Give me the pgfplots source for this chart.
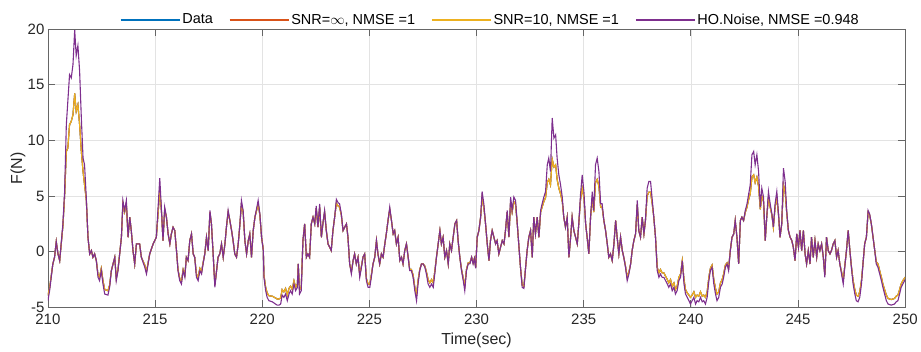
\documentclass[border=0pt]{standalone}
\usepackage{pgfplots}
\pgfplotsset{compat=1.18}
\usepackage{pgfplotstable}
\usepackage{fontspec}
\setmainfont{Liberation Sans}
\definecolor{mblue}{rgb}{0,0.447,0.741}
\definecolor{morange}{rgb}{0.85,0.325,0.098}
\definecolor{myellow}{rgb}{0.929,0.694,0.125}
\definecolor{mpurple}{rgb}{0.494,0.184,0.556}

% t = time, p = HO.Noise, y = data / SNR curves
\pgfplotstableread{
t p y
210.00 -4.4 -3.95
210.08 -3.5 -3.25
210.23 -1.1 -1.1
210.31 -0.5 -0.5
210.39 0.9 0.9
210.47 -0.2 -0.2
210.55 -0.8 -0.8
210.70 2.5 2.3
210.78 5.4 5.0
210.86 11.4 9.0
210.93 13.5 9.3
211.01 15.9 11.4
211.09 15.6 11.7
211.17 16.8 12.3
211.25 19.9 14.2
211.32 17.6 12.6
211.40 18.5 13.2
211.48 16.2 11.4
211.56 12.0 9.0
211.64 8.4 7.2
211.71 7.8 6.0
211.79 4.9 4.7
211.87 1.3 1.3
211.95 -0.2 -0.2
212.03 0.1 0.1
212.10 -0.5 -0.5
212.18 -0.2 -0.2
212.26 -0.8 -0.8
212.34 -2.3 -2.1
212.41 -2.6 -2.3
212.49 -1.7 -1.5
212.57 -2.9 -2.6
212.65 -3.8 -3.4
212.80 -3.9 -3.5
212.88 -3.2 -3.0
212.96 -1.7 -1.7
213.12 -0.5 -0.5
213.19 -2.6 -2.4
213.27 -1.7 -1.6
213.43 1.3 1.3
213.50 4.6 4.3
213.58 3.7 3.55
213.66 4.6 4.3
213.74 1.3 1.3
213.82 3.1 3.1
213.89 1.9 1.9
213.97 0.1 0.1
214.05 -1.1 -1.1
214.13 0.7 0.7
214.28 0.7 0.7
214.36 -0.5 -0.5
214.52 -1.4 -1.2
214.60 -2.0 -1.8
214.75 -0.2 -0.2
214.91 0.7 0.7
215.06 1.3 1.3
215.22 6.6 5.5
215.30 3.7 3.55
215.37 1.0 1.0
215.45 4.0 3.8
215.53 3.1 3.1
215.61 1.6 1.6
215.69 0.7 0.7
215.76 1.6 1.6
215.84 2.2 2.2
215.92 1.9 1.9
216.00 0.1 0.1
216.07 -1.7 -1.6
216.15 -2.6 -2.4
216.23 -2.9 -2.7
216.31 -1.7 -1.6
216.39 -2.3 -2.1
216.46 -0.5 -0.5
216.54 -0.8 -0.8
216.62 1.0 1.0
216.70 1.6 1.6
216.78 -0.2 -0.2
216.85 -0.5 -0.5
216.93 -2.3 -2.0
217.01 -2.6 -2.3
217.09 -1.7 -1.5
217.17 -2.0 -1.8
217.24 -1.1 -1.0
217.32 -0.2 -0.2
217.40 1.3 1.3
217.48 0.1 0.1
217.56 3.7 3.55
217.63 2.5 2.5
217.71 -0.2 -0.2
217.79 -3.2 -3.0
217.87 -1.7 -1.7
217.94 -0.5 -0.5
218.02 -0.2 -0.2
218.10 0.7 0.7
218.18 -0.5 -0.5
218.26 0.7 0.7
218.33 2.2 2.2
218.41 3.7 3.55
218.49 2.8 2.8
218.57 1.9 1.9
218.64 1.0 1.0
218.72 -0.2 -0.2
218.80 -0.5 -0.5
218.88 0.7 0.7
218.96 2.5 2.5
219.03 4.6 4.25
219.11 3.7 3.55
219.19 1.0 1.0
219.27 -0.2 -0.2
219.35 1.0 1.0
219.42 1.6 1.6
219.50 -0.5 -0.5
219.58 1.9 1.9
219.66 3.1 3.1
219.81 4.6 4.25
219.89 3.4 3.3
219.97 1.3 1.3
220.05 0.1 0.2
220.08 -2.3 -2.1
220.16 -3.5 -3.2
220.23 -4.1 -3.7
220.31 -4.4 -3.95
220.47 -4.5 -4.0
220.62 -4.7 -4.15
220.70 -4.8 -4.25
220.78 -4.8 -4.25
220.86 -4.7 -4.15
220.93 -3.9 -3.4
221.01 -4.1 -3.6
221.09 -3.8 -3.3
221.17 -4.4 -3.9
221.25 -3.8 -3.3
221.32 -3.5 -3.1
221.40 -3.8 -3.4
221.48 -2.9 -2.6
221.56 -3.5 -3.2
221.64 -3.2 -2.9
221.68 -1.1 -1.1
221.74 -3.8 -3.4
221.82 -3.5 -3.2
221.90 1.0 1.0
221.98 2.5 2.5
222.06 -0.5 -0.5
222.13 -0.2 -0.2
222.21 -0.5 -0.5
222.29 2.5 2.5
222.37 3.1 3.1
222.45 2.5 2.5
222.52 4.1 3.9
222.60 2.2 2.2
222.68 4.3 4.0
222.76 1.3 1.3
222.83 2.5 2.5
222.91 3.7 3.55
222.99 1.9 1.9
223.07 0.7 0.7
223.15 0.4 0.4
223.22 0.1 0.1
223.30 1.9 1.9
223.38 3.1 3.1
223.46 4.7 4.35
223.54 4.4 4.1
223.61 4.3 4.0
223.69 3.4 3.3
223.77 1.9 1.9
223.85 2.2 2.2
223.93 2.5 2.5
224.00 1.3 1.3
224.08 -1.1 -1.1
224.16 -2.0 -1.8
224.24 -0.8 -0.8
224.31 -0.2 -0.2
224.39 -1.1 -1.1
224.47 -0.5 -0.5
224.55 -2.3 -2.1
224.63 -1.4 -1.3
224.70 -0.5 -0.5
224.78 -0.2 -0.2
224.86 -2.6 -2.4
224.94 -3.2 -2.9
225.02 -3.2 -2.9
225.09 -2.3 -2.1
225.17 -1.1 -1.1
225.25 -0.5 -0.5
225.33 1.0 1.0
225.40 -0.2 -0.2
225.48 -1.1 -1.1
225.56 -0.2 -0.2
225.64 -0.5 -0.5
225.72 0.7 0.7
225.79 1.6 1.6
225.87 2.8 2.8
225.95 4.0 3.8
226.03 2.8 2.8
226.11 1.6 1.6
226.18 1.9 1.9
226.26 0.7 0.7
226.34 1.3 1.3
226.42 -0.8 -0.8
226.50 -0.5 -0.5
226.57 -1.1 -1.1
226.65 0.1 0.1
226.73 0.7 0.7
226.81 -0.5 -0.5
226.88 -1.7 -1.6
226.96 -1.7 -1.6
227.04 -2.3 -2.1
227.12 -3.5 -3.2
227.20 -4.4 -3.9
227.27 -2.9 -2.6
227.35 -1.7 -1.6
227.43 -1.1 -1.1
227.51 -1.1 -1.1
227.59 -1.4 -1.3
227.66 -2.0 -1.8
227.74 -2.9 -2.5
227.82 -3.2 -2.8
227.90 -2.9 -2.5
227.98 -3.2 -2.8
228.05 -2.0 -1.8
228.13 -0.5 -0.5
228.21 0.7 0.7
228.29 1.9 1.9
228.36 0.7 0.7
228.44 1.3 1.3
228.52 -0.5 -0.5
228.60 0.1 0.1
228.68 -1.1 -1.1
228.75 0.7 0.7
228.83 0.1 0.1
228.91 1.3 1.3
228.99 2.5 2.5
229.07 2.8 2.8
229.14 1.0 1.0
229.22 -0.5 -0.5
229.30 -1.7 -1.6
229.38 -2.6 -2.4
229.45 -3.5 -3.1
229.53 -1.7 -1.6
229.61 -1.1 -1.0
229.69 -1.1 -1.0
229.77 -0.5 -0.5
229.84 -1.1 -1.0
229.90 -0.6 -0.6
229.96 -1.5 -1.4
230.03 1.3 1.3
230.11 1.9 1.9
230.19 3.1 3.1
230.26 5.4 4.85
230.34 4.3 4.0
230.42 2.5 2.5
230.50 0.7 0.7
230.58 -0.8 -0.8
230.65 1.0 1.0
230.73 1.9 1.9
230.81 1.3 1.3
230.89 0.7 0.7
230.96 1.0 1.0
231.04 -0.2 -0.2
231.12 0.4 0.4
231.20 1.0 1.0
231.28 0.7 0.7
231.35 1.9 1.9
231.43 3.7 3.55
231.51 1.3 1.3
231.59 4.9 4.5
231.66 3.7 3.55
231.74 4.9 4.5
231.82 4.6 4.25
231.90 2.5 2.5
231.98 0.4 0.4
232.05 -1.4 -1.4
232.13 -3.2 -3.0
232.21 -3.3 -3.1
232.29 -1.4 -1.4
232.36 0.1 0.1
232.44 1.3 1.3
232.52 1.9 1.9
232.60 -0.5 -0.5
232.67 3.1 3.1
232.75 1.6 1.6
232.83 3.1 3.1
232.91 1.3 1.3
232.99 3.7 3.55
233.06 4.3 4.0
233.14 4.9 4.5
233.22 5.4 4.85
233.30 7.8 6.2
233.37 8.4 6.5
233.45 7.2 6.0
233.53 12.0 8.3
233.61 10.2 7.6
233.69 10.5 7.8
233.76 8.4 6.5
233.84 6.9 5.7
233.92 6.0 5.2
234.00 4.9 4.5
234.07 3.1 3.1
234.15 2.2 2.2
234.23 3.1 3.1
234.31 -0.5 -0.5
234.39 1.3 1.3
234.46 3.1 3.1
234.54 1.9 1.9
234.62 1.3 1.3
234.70 0.7 0.7
234.77 2.5 2.5
234.85 5.1 4.65
234.93 6.9 5.7
235.01 5.4 4.85
235.09 2.5 2.5
235.16 1.3 1.3
235.24 -0.2 -0.2
235.32 3.1 3.1
235.40 5.4 4.85
235.47 3.7 3.55
235.55 7.8 6.2
235.63 8.4 6.5
235.71 7.2 5.85
235.79 4.3 4.0
235.86 4.3 4.0
235.94 2.8 2.8
236.02 1.9 1.9
236.10 0.7 0.7
236.17 -0.5 -0.5
236.25 -0.2 -0.2
236.33 -0.8 -0.8
236.41 0.7 0.7
236.49 2.8 2.8
236.56 1.3 1.3
236.64 -0.2 -0.2
236.72 1.3 1.3
236.80 0.1 0.1
236.87 -0.5 -0.5
236.95 -1.4 -1.3
237.03 -2.6 -2.3
237.11 -2.0 -1.8
237.19 -1.1 -1.1
237.26 0.1 0.1
237.34 1.0 1.0
237.42 1.6 1.6
237.50 4.6 4.25
237.57 1.9 1.9
237.65 1.3 1.3
237.73 3.1 3.1
237.81 1.6 1.6
237.88 2.8 2.8
237.96 5.7 5.0
238.04 6.3 5.35
238.12 6.3 5.35
238.20 4.6 4.25
238.27 3.1 3.1
238.35 1.3 1.3
238.43 -1.7 -1.4
238.51 -2.3 -1.9
238.58 -2.0 -1.6
238.66 -2.3 -1.9
238.74 -2.3 -1.9
238.82 -2.6 -2.2
238.90 -2.9 -2.5
238.97 -3.2 -2.8
239.05 -2.9 -2.5
239.13 -3.5 -3.1
239.21 -3.2 -2.8
239.28 -3.8 -3.4
239.36 -3.5 -3.1
239.44 -2.6 -2.3
239.52 -2.3 -2.0
239.60 -0.8 -0.8
239.68 -2.9 -2.5
239.75 -3.8 -3.4
239.83 -4.1 -3.7
239.91 -4.4 -3.9
239.98 -4.7 -4.1
240.06 -4.4 -3.9
240.14 -4.1 -3.6
240.22 -4.7 -4.1
240.29 -4.4 -3.9
240.37 -4.5 -4.0
240.45 -4.1 -3.6
240.53 -4.5 -4.0
240.60 -4.4 -3.9
240.68 -4.7 -4.1
240.76 -4.1 -3.6
240.84 -2.6 -2.3
240.91 -1.7 -1.5
240.99 -1.4 -1.2
241.07 -2.9 -2.5
241.15 -3.8 -3.3
241.22 -4.4 -3.8
241.30 -4.1 -3.6
241.38 -3.2 -2.8
241.46 -2.9 -2.5
241.53 -2.3 -2.0
241.61 -1.4 -1.2
241.69 -1.1 -1.0
241.76 -1.7 -1.5
241.84 0.1 0.1
241.92 1.3 1.3
242.00 1.6 1.6
242.07 2.8 2.8
242.15 1.3 1.3
242.23 -1.1 -1.1
242.31 2.8 2.8
242.38 3.1 3.1
242.46 2.8 2.8
242.54 3.7 3.55
242.62 4.3 4.0
242.69 5.1 4.65
242.77 6.0 5.2
242.85 8.7 6.7
242.93 9.0 6.9
243.00 7.8 6.2
243.08 8.7 6.7
243.16 7.2 5.85
243.24 4.0 3.8
243.31 5.7 5.0
243.39 4.9 4.5
243.47 1.0 1.0
243.54 3.1 3.1
243.62 5.4 4.85
243.70 4.3 4.0
243.78 3.4 3.3
243.85 2.2 2.2
243.93 4.3 4.0
244.01 5.4 4.85
244.09 3.4 3.3
244.16 1.3 1.3
244.24 2.5 2.5
244.32 7.5 6.0
244.40 6.3 5.35
244.47 3.7 3.55
244.55 1.9 1.9
244.63 1.3 1.3
244.71 1.0 1.0
244.78 0.4 0.4
244.86 -0.8 -0.8
244.94 1.6 1.6
245.02 0.4 0.4
245.09 1.9 1.9
245.17 0.1 0.1
245.25 1.9 1.9
245.33 -0.2 -0.2
245.40 -1.1 -1.1
245.48 0.1 0.1
245.56 -1.1 -1.1
245.63 1.3 1.3
245.71 -0.5 -0.5
245.79 1.0 1.0
245.87 -0.5 -0.5
245.94 0.7 0.7
246.02 0.1 0.1
246.10 0.7 0.7
246.18 -0.5 -0.5
246.25 -2.3 -2.1
246.33 1.3 1.3
246.41 0.1 0.1
246.49 -0.2 -0.2
246.56 0.1 0.1
246.64 0.7 0.7
246.72 1.0 1.0
246.80 -0.5 -0.5
246.87 0.1 0.1
246.95 -1.1 -1.1
247.03 -2.0 -1.8
247.11 -2.9 -2.6
247.18 -1.4 -1.3
247.26 0.1 0.1
247.34 1.9 1.9
247.42 0.1 0.1
247.49 -1.4 -1.3
247.57 -2.9 -2.6
247.65 -3.8 -3.4
247.72 -4.4 -3.9
247.80 -4.5 -4.0
247.88 -4.1 -3.6
247.96 -2.9 -2.6
248.03 -1.1 -1.1
248.11 0.7 0.7
248.19 1.3 1.3
248.27 3.7 3.55
248.34 3.4 3.3
248.42 2.5 2.5
248.50 1.3 1.3
248.58 0.1 0.1
248.65 -1.1 -0.9
248.73 -1.4 -1.1
248.81 -2.0 -1.7
248.89 -2.6 -2.3
248.96 -3.2 -2.9
249.04 -3.8 -3.4
249.12 -4.4 -3.9
249.20 -4.7 -4.2
249.35 -4.8 -4.3
249.50 -4.7 -4.2
249.58 -4.5 -4.0
249.66 -4.4 -3.9
249.74 -3.8 -3.4
249.81 -3.2 -2.9
249.89 -2.9 -2.6
250.00 -2.5 -2.3
}\datatab

\begin{document}
\begin{tikzpicture}
\begin{axis}[
  scale only axis,
  width=859pt, height=279pt,
  xmin=210, xmax=250, ymin=-5, ymax=20,
  xtick={210,215,...,250},
  ytick={-5,0,...,20},
  grid=major,
  major grid style={draw=black!11, line width=0.6pt},
  tick align=inside,
  major tick length=7pt,
  axis line style={draw=black!60, line width=0.8pt},
  every tick/.style={draw=black!60, line width=0.8pt},
  ticklabel style={font=\fontsize{15}{17}\selectfont, text=black!85},
  xticklabel style={yshift=-3pt},
  /pgf/number format/assume math mode=true,
  xlabel={Time(sec)},
  ylabel={F(N)},
  label style={font=\fontsize{16}{18}\selectfont, text=black!85},
  xlabel style={at={(axis description cs:0.5,-0.118)}, anchor=center},
  ylabel style={at={(axis description cs:-0.035,0.5)}, anchor=center},
  legend columns=4,
  legend style={
    at={(axis description cs:0.516,1)}, anchor=south, yshift=1pt,
    draw=white, fill=white, inner sep=0pt,
    font=\fontsize{14.5}{16}\selectfont,
    /tikz/every even column/.append style={column sep=14pt},
  },
  legend image code/.code={\draw[#1, line width=1.6pt] (0pt,0pt) -- (59pt,0pt);},
  no markers,
]
\addplot[color=mblue, line width=1.1pt] table[x=t, y=y] {\datatab};
\addlegendentry{Data}
\addplot[color=morange, line width=1.1pt] table[x=t, y=y] {\datatab};
\addlegendentry{SNR=$\infty$, NMSE =1}
\addplot[color=myellow, line width=1.1pt] table[x=t, y=y] {\datatab};
\addlegendentry{SNR=10, NMSE =1}
\addplot[color=mpurple, line width=1.1pt] table[x=t, y=p] {\datatab};
\addlegendentry{HO.Noise, NMSE =0.948}
\end{axis}
\path (current axis.south west) ++(-48pt,-44pt) coordinate (bbA);
\path (current axis.north east) ++(14pt,29pt) coordinate (bbB);
\path (bbA) rectangle (bbB);
\end{tikzpicture}
\end{document}
